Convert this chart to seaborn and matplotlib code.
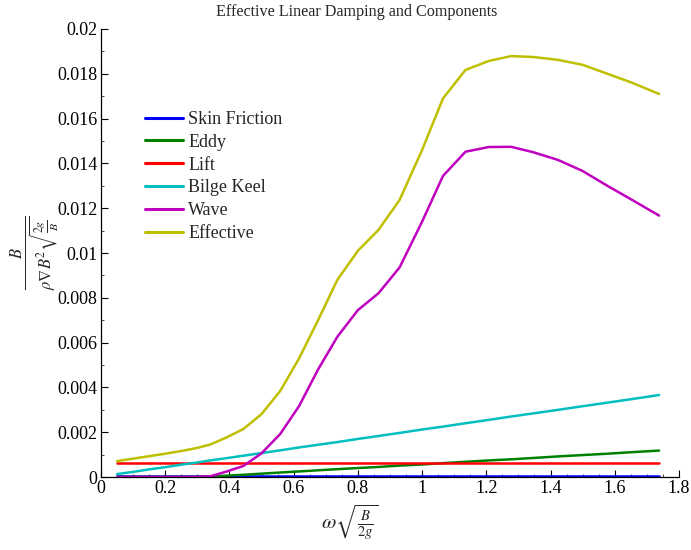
import matplotlib
matplotlib.use("Agg")
import matplotlib.pyplot as plt
import seaborn as sns
import pandas as pd
from matplotlib.ticker import MultipleLocator, FixedLocator, FixedFormatter

# ---- data ----
freq = [0.05, 0.10, 0.15, 0.20, 0.25, 0.30, 0.34, 0.39, 0.443, 0.50, 0.558, 0.617,
        0.676, 0.736, 0.80, 0.864, 0.93, 1.00, 1.065, 1.135, 1.207, 1.277, 1.346,
        1.424, 1.50, 1.577, 1.654, 1.738]

skin_friction = [0.00003] * len(freq)
eddy = [0.0, 0.0, 0.0, 0.0, 0.0, 0.0, 0.00002, 0.00006, 0.00010, 0.00015, 0.00020,
        0.00025, 0.00030, 0.00035, 0.00040, 0.00045, 0.00051, 0.00056, 0.00062,
        0.00068, 0.00074, 0.00079, 0.00085, 0.00092, 0.00098, 0.00104, 0.00111, 0.00118]
lift = [0.00062] * len(freq)
bilge_keel = [0.00013, 0.00023, 0.00034, 0.00044, 0.00055, 0.00065, 0.00074, 0.00084,
              0.00095, 0.00107, 0.00119, 0.00132, 0.00144, 0.00156, 0.00170, 0.00183,
              0.00197, 0.00212, 0.00225, 0.00240, 0.00255, 0.00270, 0.00284, 0.00300,
              0.00316, 0.00332, 0.00348, 0.00366]
wave = [0.0, 0.0, 0.0, 0.0, 0.0, 0.00001, 0.00003, 0.00024, 0.00049, 0.00106, 0.00192,
        0.00317, 0.0048, 0.00626, 0.00745, 0.0082, 0.00936, 0.0114, 0.01344, 0.01452,
        0.01473, 0.01474, 0.0145, 0.01415, 0.01366, 0.0130, 0.01237, 0.01167]
effective = [0.00071, 0.00082, 0.00093, 0.00104, 0.00116, 0.00130, 0.00145, 0.00176,
             0.00214, 0.00281, 0.00384, 0.0053, 0.0070, 0.0088, 0.0101, 0.01103,
             0.01237, 0.0146, 0.0169, 0.01817, 0.01857, 0.01879, 0.01875, 0.01862,
             0.0184, 0.0180, 0.0176, 0.0171]

series_names = ["Skin Friction", "Eddy", "Lift", "Bilge Keel", "Wave", "Effective"]
series_values = [skin_friction, eddy, lift, bilge_keel, wave, effective]
series_colors = ["#0000ff", "#008000", "#ff0000", "#00bfbf", "#bf00bf", "#bfbf00"]

x_tick_vals = [0, 0.2, 0.4, 0.6, 0.8, 1.0, 1.2, 1.4, 1.6, 1.8]
x_tick_labels = ["0", "0.2", "0.4", "0.6", "0.8", "1", "1.2", "1.4", "1.6", "1.8"]
y_tick_vals = [0, 0.002, 0.004, 0.006, 0.008, 0.01, 0.012, 0.014, 0.016, 0.018, 0.02]
y_tick_labels = ["0", "0.002", "0.004", "0.006", "0.008", "0.01", "0.012", "0.014",
                 "0.016", "0.018", "0.02"]

rows = []
for name, vals in zip(series_names, series_values):
    for f, v in zip(freq, vals):
        rows.append({"freq": f, "value": v, "component": name})
df = pd.DataFrame(rows)

sns.set_style("ticks")
plt.rcParams["font.family"] = ["Liberation Serif", "DejaVu Serif"]
plt.rcParams["mathtext.fontset"] = "stix"

fig = plt.figure(figsize=(6.91, 5.5), dpi=100)
ax = fig.add_axes([0.1462, 0.1327, 0.9826 - 0.1462, 0.9473 - 0.1327])

sns.lineplot(data=df, x="freq", y="value", hue="component", hue_order=series_names,
             palette=dict(zip(series_names, series_colors)), estimator=None,
             sort=False, linewidth=1.8, ax=ax)

ax.set_xlim(0, 1.8)
ax.set_ylim(0, 0.02)
ax.xaxis.set_major_locator(FixedLocator(x_tick_vals))
ax.xaxis.set_major_formatter(FixedFormatter(x_tick_labels))
ax.yaxis.set_major_locator(FixedLocator(y_tick_vals))
ax.yaxis.set_major_formatter(FixedFormatter(y_tick_labels))
ax.xaxis.set_minor_locator(MultipleLocator(0.05))
ax.yaxis.set_minor_locator(MultipleLocator(0.001))
ax.tick_params(axis="both", which="major", direction="in", length=5, width=0.8,
               labelsize=13, colors="black", pad=2.5)
ax.tick_params(axis="both", which="minor", direction="in", length=2.5, width=0.6)
for s in ["top", "right"]:
    ax.spines[s].set_visible(False)
for s in ["left", "bottom"]:
    ax.spines[s].set_linewidth(0.9)
    ax.spines[s].set_color("black")

fig.text(357 / 691, 1 - 11.5 / 550, "Effective Linear Damping and Components",
         fontsize=11.6, ha="center", va="center")
ax.set_xlabel(r"$\omega\sqrt{\frac{B}{2g}}$", fontsize=15)
ax.xaxis.set_label_coords((350 - 101) / 578, -0.058, transform=ax.transAxes)
ax.xaxis.label.set_va("top")
ax.set_ylabel(r"$\frac{B}{\rho\nabla B^2\sqrt{\frac{2g}{B}}}$", fontsize=17)
ax.yaxis.set_label_coords(-0.067, 0.5, transform=ax.transAxes)

leg = ax.legend(loc="upper left", bbox_to_anchor=(0.076, 0.817), frameon=False,
                fontsize=13, handlelength=2.1, handletextpad=0.3, labelspacing=0.32,
                borderaxespad=0, borderpad=0)
for line in leg.get_lines():
    line.set_linewidth(2.2)

fig.savefig("out.png", dpi=100)
